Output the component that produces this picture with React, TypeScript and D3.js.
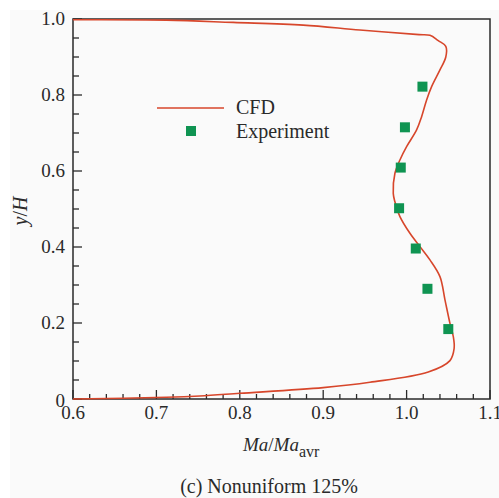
import React, { useRef, useEffect } from 'react';
import * as d3 from 'd3';

// CFD profile: Ma/Ma_avr (x) against y/H (y), traced from top wall to bottom wall
const cfdX = [0.6, 0.712, 0.792, 0.876, 0.944, 1.015, 1.028, 1.038, 1.047, 1.047, 1.040, 1.030, 1.024, 1.018, 1.012, 1.000, 0.992, 0.986, 0.984, 0.986, 0.992, 1.004, 1.016, 1.028, 1.040, 1.046, 1.052, 1.056, 1.057, 1.052, 1.026, 0.956, 0.9, 0.8, 0.752, 0.712, 0.6];
const cfdY = [0.998, 0.997, 0.991, 0.984, 0.971, 0.959, 0.957, 0.943, 0.928, 0.900, 0.866, 0.822, 0.787, 0.743, 0.708, 0.664, 0.629, 0.594, 0.541, 0.519, 0.480, 0.436, 0.401, 0.366, 0.322, 0.261, 0.199, 0.164, 0.133, 0.101, 0.071, 0.044, 0.030, 0.015, 0.008, 0.0045, 0.0];

// experiment points
const expX = [1.019, 0.998, 0.993, 0.991, 1.011, 1.025, 1.050];
const expY = [0.822, 0.715, 0.609, 0.502, 0.396, 0.290, 0.184];

const xTicks = [0.6, 0.7, 0.8, 0.9, 1.0, 1.1];
const yTicks = [0, 0.2, 0.4, 0.6, 0.8, 1.0];

const seriesNames = ['CFD', 'Experiment'];
const caption = '(c) Nonuniform 125%';

const W = 499;
const H = 498;
const lineColor = '#d7462b';
const markColor = '#0f9452';
const ink = '#2a2a2a';
const font = '"Liberation Serif", "Times New Roman", serif';

function Chart() {
    const ref = useRef<SVGSVGElement>(null);

    useEffect(() => {
        const svg = d3.select(ref.current);
        svg.selectAll('*').remove();

        const left = 73, right = 490, top = 19, bottom = 399;
        const x = d3.scaleLinear().domain([0.6, 1.1]).range([left, right]);
        const y = d3.scaleLinear().domain([0, 1]).range([bottom, top]);

        // light grey page behind the figure
        svg.append('rect')
            .attr('x', 10).attr('y', 10)
            .attr('width', W - 10).attr('height', H - 10)
            .attr('fill', '#fafafa');

        // minor + major ticks, pointing inward
        const xMinor = d3.range(0.6, 1.1001, 0.02);
        svg.append('g').selectAll('line')
            .data(xMinor)
            .enter().append('line')
            .attr('x1', d => x(d)).attr('x2', d => x(d))
            .attr('y1', bottom)
            .attr('y2', d => bottom - (xTicks.some(t => Math.abs(t - d) < 1e-6) ? 9 : 5))
            .attr('stroke', ink).attr('stroke-width', 1.3);

        const yMinor = d3.range(0, 1.0001, 0.05);
        svg.append('g').selectAll('line')
            .data(yMinor)
            .enter().append('line')
            .attr('y1', d => y(d)).attr('y2', d => y(d))
            .attr('x1', left)
            .attr('x2', d => left + (yTicks.some(t => Math.abs(t - d) < 1e-6) ? 9 : 6))
            .attr('stroke', ink).attr('stroke-width', 1.3);

        // frame
        svg.append('rect')
            .attr('x', left).attr('y', top)
            .attr('width', right - left).attr('height', bottom - top)
            .attr('fill', 'none')
            .attr('stroke', ink).attr('stroke-width', 1.5);

        // tick labels
        svg.append('g').selectAll('text')
            .data(xTicks)
            .enter().append('text')
            .attr('x', d => x(d)).attr('y', 419)
            .attr('text-anchor', 'middle')
            .style('font-family', font).style('font-size', '19px').attr('fill', ink)
            .text(d => d.toFixed(1));

        svg.append('g').selectAll('text')
            .data(yTicks)
            .enter().append('text')
            .attr('x', 65).attr('y', d => y(d) + (d === 0 ? 8 : 6))
            .attr('text-anchor', 'end')
            .style('font-family', font).style('font-size', '19px').attr('fill', ink)
            .text(d => d === 0 ? '0' : d.toFixed(1));

        // CFD line
        const pts: [number, number][] = cfdX.map((v, i) => [v, cfdY[i]]);
        const line = d3.line<[number, number]>()
            .x(d => x(d[0]))
            .y(d => y(d[1]))
            .curve(d3.curveCatmullRom.alpha(0.5));
        svg.append('path')
            .datum(pts)
            .attr('d', line)
            .attr('fill', 'none')
            .attr('stroke', lineColor)
            .attr('stroke-width', 1.6);

        // experiment squares
        const s = 10;
        svg.append('g').selectAll('rect')
            .data(expX.map((v, i) => [v, expY[i]]))
            .enter().append('rect')
            .attr('x', d => x(d[0]) - s / 2)
            .attr('y', d => y(d[1]) - s / 2)
            .attr('width', s).attr('height', s)
            .attr('fill', markColor);

        // legend
        const lg = svg.append('g');
        lg.append('line')
            .attr('x1', 157).attr('x2', 224).attr('y1', 108).attr('y2', 108)
            .attr('stroke', lineColor).attr('stroke-width', 1.6);
        lg.append('rect')
            .attr('x', 191 - s / 2).attr('y', 131 - s / 2)
            .attr('width', s).attr('height', s)
            .attr('fill', markColor);
        lg.selectAll('text')
            .data(seriesNames)
            .enter().append('text')
            .attr('x', 236).attr('y', (d, i) => 114 + i * 24)
            .style('font-family', font).style('font-size', '20px').attr('fill', ink)
            .text(d => d);

        // axis titles
        const xt = svg.append('text')
            .attr('x', 243).attr('y', 451)
            .style('font-family', font).style('font-size', '19px').attr('fill', ink);
        xt.append('tspan').style('font-style', 'italic').text('Ma');
        xt.append('tspan').text('/');
        xt.append('tspan').style('font-style', 'italic').text('Ma');
        xt.append('tspan').attr('dy', 6).style('font-size', '16px').text('avr');

        const yt = svg.append('text')
            .attr('transform', 'translate(27,211) rotate(-90)')
            .attr('text-anchor', 'middle')
            .style('font-family', font).style('font-size', '20px').attr('fill', ink);
        yt.append('tspan').style('font-style', 'italic').text('y');
        yt.append('tspan').text('/');
        yt.append('tspan').style('font-style', 'italic').text('H');

        svg.append('text')
            .attr('x', 269).attr('y', 493)
            .attr('text-anchor', 'middle')
            .style('font-family', font).style('font-size', '20px').attr('fill', ink)
            .text(caption);
    }, []);

    return <svg ref={ref} width={W} height={H} style={{ display: 'block' }} />;
}

export default function App() {
    return (
        <div style={{ position: 'absolute', left: 0, top: 0, width: W, height: H, overflow: 'hidden', background: '#fff' }}>
            <Chart />
        </div>
    );
}
